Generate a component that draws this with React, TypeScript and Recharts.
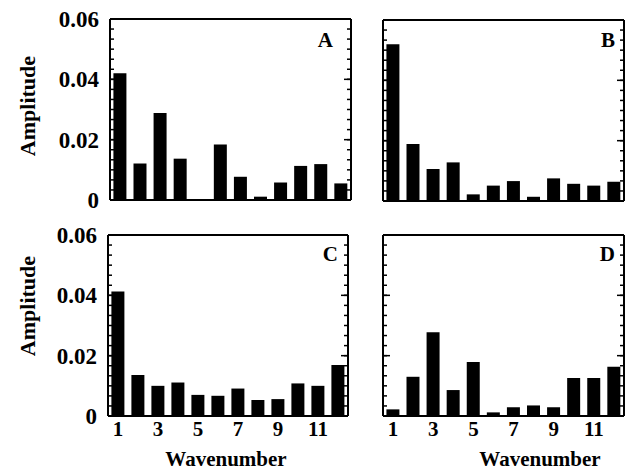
import { ComposedChart, Bar, Line, XAxis, YAxis } from "recharts";

const wavenumbers = ["1", "2", "3", "4", "5", "6", "7", "8", "9", "10", "11", "12"];
const ampA = [0.042, 0.0121, 0.0288, 0.0137, 0, 0.0184, 0.0077, 0.0011, 0.0058, 0.0113, 0.0119, 0.0055];
const ampB = [0.052, 0.0189, 0.0106, 0.0128, 0.0022, 0.0051, 0.0066, 0.0014, 0.0075, 0.0057, 0.0051, 0.0064];
const ampC = [0.0413, 0.0136, 0.01, 0.0111, 0.007, 0.0067, 0.0091, 0.0053, 0.0056, 0.0108, 0.01, 0.0169];
const ampD = [0.0022, 0.013, 0.0278, 0.0086, 0.0179, 0.0012, 0.0029, 0.0035, 0.0029, 0.0126, 0.0126, 0.0163];

const yLabels = [0, 0.02, 0.04, 0.06];
const majorTicks = [0.02, 0.04];
// minor ticks every 1/6 of a major step
const minorTicks = Array.from({ length: 19 }, (_, i) => (i * 0.02) / 6);

const FONT = "'Liberation Serif', 'Times New Roman', serif";
const frame = { stroke: "#000", strokeWidth: 2 };
const tickStroke = { stroke: "#000", strokeWidth: 1.5 };
const noText = () => "";

interface PanelProps {
  values: number[];
  letter: string;
  left: number;
  top: number;
  width: number;
  height: number;
  margin: { top: number; right: number; bottom: number; left: number };
  labelAxisWidth: number;
  xAxisHeight: number;
  letterPos: [number, number];
  amplitudePos?: [number, number];
  wavenumberPos?: [number, number];
}

// invisible line so that an axis has a series bound to it
const ghost = (x: string, y: string) => (
  <Line key={x + y} xAxisId={x} yAxisId={y} dataKey="v" stroke="none" dot={false} activeDot={false}
    legendType="none" isAnimationActive={false} />
);

function Panel(p: PanelProps) {
  const data = wavenumbers.map((w, i) => ({ w, v: p.values[i] }));
  const showX = p.xAxisHeight > 1;
  const hasLab = p.labelAxisWidth > 0;
  return (
    <div style={{ position: "absolute", left: p.left, top: p.top }}>
      <ComposedChart width={p.width} height={p.height} data={data} margin={p.margin} barCategoryGap="17%">
        {/* ids sort a < b < c: frame sits on the plot edge, labels outermost */}
        <YAxis yAxisId="a" type="number" domain={[0, 0.06]} width={1} ticks={minorTicks} tickFormatter={noText}
          tickSize={-4} axisLine={frame} tickLine={tickStroke} />
        <YAxis yAxisId="b" type="number" domain={[0, 0.06]} width={1} ticks={majorTicks} tickFormatter={noText}
          tickSize={-8} axisLine={false} tickLine={tickStroke} />
        {hasLab && (
          <YAxis yAxisId="c" type="number" domain={[0, 0.06]} width={p.labelAxisWidth} ticks={yLabels}
            tickFormatter={(v: number) => (v === 0 ? "0" : v.toFixed(2))} axisLine={false} tickLine={false}
            tickSize={0} tickMargin={9}
            tick={{ fill: "#000", fontSize: 23, fontWeight: 700, fontFamily: FONT }}
            label={{
              content: () => (
                <text x={p.amplitudePos![0]} y={p.amplitudePos![1]} textAnchor="middle" dominantBaseline="central"
                  transform={`rotate(-90 ${p.amplitudePos![0]} ${p.amplitudePos![1]})`}
                  style={{ fontSize: 22, fontWeight: 700, fontFamily: FONT }} fill="#000">
                  Amplitude
                </text>
              ),
            }} />
        )}
        <YAxis yAxisId="d" orientation="right" type="number" domain={[0, 0.06]} width={1} ticks={minorTicks}
          tickFormatter={noText} tickSize={-4} axisLine={frame} tickLine={tickStroke} />
        <YAxis yAxisId="e" orientation="right" type="number" domain={[0, 0.06]} width={1} ticks={majorTicks}
          tickFormatter={noText} tickSize={-8} axisLine={false} tickLine={tickStroke} />
        <XAxis xAxisId="top" orientation="top" dataKey="w" height={1} tick={false} tickLine={false}
          axisLine={frame}
          label={{
            content: () => (
              <text x={p.letterPos[0]} y={p.letterPos[1]} textAnchor="end"
                style={{ fontSize: 21, fontWeight: 700, fontFamily: FONT }} fill="#000">
                {p.letter}
              </text>
            ),
          }} />
        <XAxis xAxisId="bottom" dataKey="w" height={p.xAxisHeight} interval={1} tickLine={false} tickSize={0}
          tickMargin={5} axisLine={frame}
          tick={showX ? { fill: "#000", fontSize: 21, fontWeight: 700, fontFamily: FONT } : false}
          label={
            p.wavenumberPos
              ? {
                  content: () => (
                    <text x={p.wavenumberPos![0]} y={p.wavenumberPos![1]} textAnchor="middle"
                      style={{ fontSize: 21, fontWeight: 700, fontFamily: FONT }} fill="#000">
                      Wavenumber
                    </text>
                  ),
                }
              : undefined
          } />
        <Bar dataKey="v" xAxisId="bottom" yAxisId="a" fill="#000" isAnimationActive={false} />
        {ghost("top", "d")}
        {ghost("bottom", "b")}
        {ghost("bottom", "e")}
        {hasLab && ghost("bottom", "c")}
      </ComposedChart>
    </div>
  );
}

export default function App() {
  return (
    <div style={{ position: "absolute", left: 0, top: 0, width: 625, height: 473, background: "#fff", fontFamily: FONT }}>
      <Panel values={ampA} letter="A" left={0} top={0} width={355} height={220}
        margin={{ top: 18, right: 2, bottom: 19, left: 0 }} labelAxisWidth={108} xAxisHeight={1}
        letterPos={[333, 47]} amplitudePos={[27, 106]} />
      <Panel values={ampB} letter="B" left={360} top={0} width={266} height={220}
        margin={{ top: 19, right: 0, bottom: 18, left: 21 }} labelAxisWidth={0} xAxisHeight={1}
        letterPos={[255, 47]} />
      <Panel values={ampC} letter="C" left={0} top={220} width={352} height={253}
        margin={{ top: 14, right: 2, bottom: 0, left: 0 }} labelAxisWidth={106} xAxisHeight={57}
        letterPos={[338, 41]} amplitudePos={[27, 86]} wavenumberPos={[226, 246]} />
      <Panel values={ampD} letter="D" left={360} top={220} width={266} height={253}
        margin={{ top: 14, right: 0, bottom: 0, left: 21 }} labelAxisWidth={0} xAxisHeight={57}
        letterPos={[255, 41]} wavenumberPos={[180, 246]} />
    </div>
  );
}
